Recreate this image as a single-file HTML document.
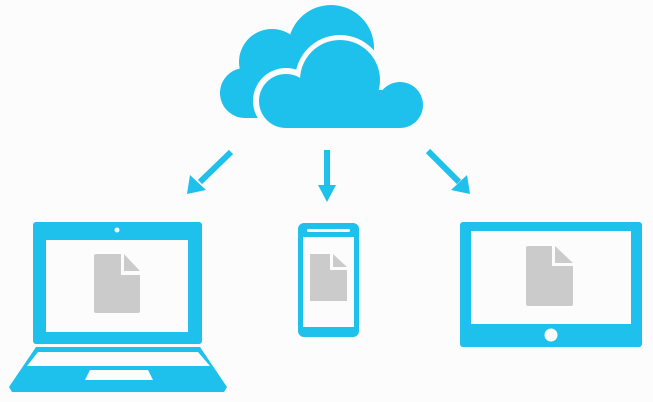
<!DOCTYPE html>
<html><head><style>html,body{margin:0;padding:0;background:#fcfcfc;}svg{display:block}</style></head>
<body>
<svg width="653" height="402" viewBox="0 0 653 402" xmlns="http://www.w3.org/2000/svg">
<rect width="653" height="402" fill="#fcfcfc"/>
<!-- back cloud -->
<g fill="#1ec0ec">
<circle cx="245" cy="93" r="25"/>
<circle cx="272" cy="62" r="33"/>
<circle cx="331" cy="48" r="43"/>
<rect x="245" y="60" width="100" height="58"/>
</g>
<!-- front cloud outline -->
<g fill="#fcfcfc">
<circle cx="286" cy="101" r="33"/>
<circle cx="340" cy="80" r="45"/>
<circle cx="400" cy="105" r="28"/>
<rect x="286" y="90" width="114" height="43"/>
</g>
<!-- front cloud -->
<g fill="#1ec0ec">
<circle cx="286" cy="101" r="27"/>
<circle cx="340" cy="80" r="40"/>
<circle cx="400" cy="105" r="23"/>
<rect x="286" y="90" width="114" height="38"/>
</g>
<!-- arrows -->
<g stroke="#1ec0ec" stroke-width="6" fill="none">
<line x1="231" y1="152" x2="200" y2="182"/>
<line x1="327" y1="150" x2="327" y2="188"/>
<line x1="428" y1="151" x2="459" y2="182"/>
</g>
<g fill="#1ec0ec">
<polygon points="187,194 190,175 206,190"/>
<polygon points="318,185 336,185 327,202"/>
<polygon points="470,194 467,175 451,190"/>
</g>
<!-- laptop -->
<rect x="33" y="222" width="169" height="122" rx="3" fill="#1ec0ec"/>
<rect x="46" y="240" width="142" height="92" fill="#fcfcfc"/>
<circle cx="117" cy="230" r="2.5" fill="#fcfcfc"/>
<polygon points="36,347 200,347 227,387 224,392 12,392 9,387" fill="#1ec0ec"/>
<polygon points="38,352 198,352 210,366 27,366" fill="#fcfcfc"/>
<polygon points="90,370 148,370 153,380 85,380" fill="#fcfcfc"/>
<rect x="33" y="344" width="26" height="3" fill="#fcfcfc"/>
<rect x="176" y="344" width="26" height="3" fill="#fcfcfc"/>
<!-- phone -->
<rect x="298" y="223" width="61" height="114" rx="6" fill="#1ec0ec"/>
<rect x="303" y="237" width="51" height="90" fill="#fcfcfc"/>
<rect x="307" y="229" width="43" height="3" rx="1.5" fill="#fcfcfc"/>
<!-- tablet -->
<rect x="460" y="222" width="182" height="125" rx="3" fill="#1ec0ec"/>
<rect x="471" y="231" width="160" height="93" fill="#fcfcfc"/>
<circle cx="551" cy="335" r="6.5" fill="#fcfcfc"/>
<!-- documents -->
<g fill="#cbcbcb">
<path d="M94,256 Q94,254 96,254 L121,254 L121,275 L140,275 L140,311 Q140,313 138,313 L96,313 Q94,313 94,311 Z"/>
<polygon points="124,254 140,271 124,271"/>
<path d="M310,254 L330,254 L330,270 L347,270 L347,301 L310,301 Z"/>
<polygon points="333,254 347,267 333,267"/>
<path d="M526,248 Q526,246 528,246 L552,246 L552,266 L573,266 L573,304 Q573,306 571,306 L528,306 Q526,306 526,304 Z"/>
<polygon points="555,246 573,263 555,263"/>
</g>
</svg>
</body></html>
